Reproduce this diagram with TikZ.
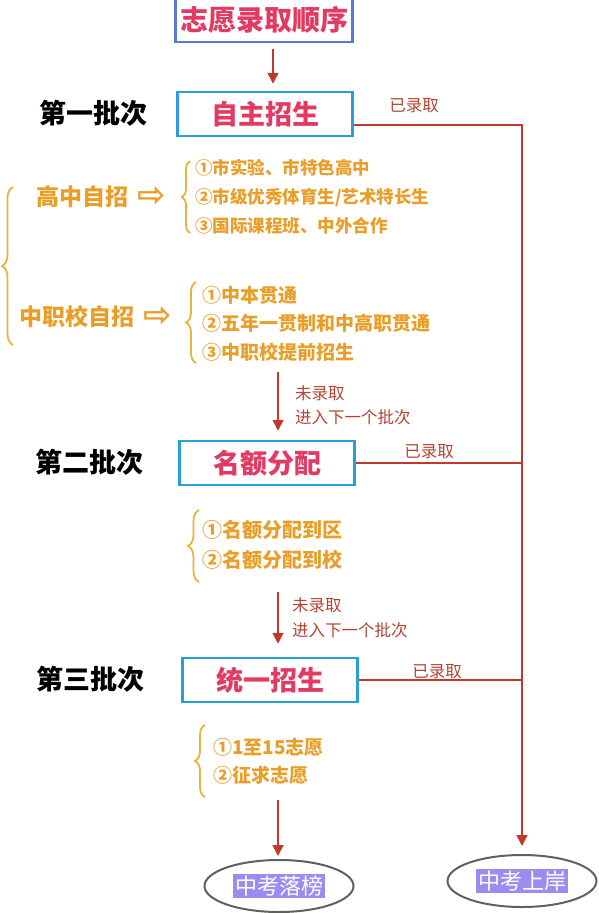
\documentclass[tikz,border=0pt]{standalone}
\usepackage{fontspec}
\setmainfont{Noto Sans CJK SC}
\newfontfamily\symfont{DejaVu Sans}
\usepackage{tikz}
\usetikzlibrary{positioning}
\usetikzlibrary{arrows.meta}
\usetikzlibrary{decorations.pathreplacing}
\usetikzlibrary{shapes.geometric}
\definecolor{titlered}{RGB}{226,58,98}
\definecolor{titleblue}{RGB}{90,120,215}
\definecolor{boxblue}{RGB}{40,160,215}
\definecolor{linered}{RGB}{192,57,43}
\definecolor{notered}{RGB}{178,68,50}
\definecolor{itemorange}{RGB}{232,158,40}
\definecolor{braceyellow}{RGB}{230,180,60}
\definecolor{endpurple}{RGB}{155,140,240}
\setlength{\fboxsep}{2pt}

\begin{document}
\begin{tikzpicture}
    [x=1pt,y=-1pt,
    headbox/.style={draw=titleblue,line width=2.2pt,text=titlered,minimum width=177pt,minimum height=44pt,inner sep=0pt,font=\fontsize{28}{30}\selectfont\bfseries},
    batchbox/.style={draw=boxblue,line width=2.5pt,text=titlered,minimum width=175pt,minimum height=44pt,inner sep=0pt,font=\fontsize{27}{29}\selectfont\bfseries},
    lvl/.style={font=\fontsize{27}{29}\selectfont\bfseries},
    grp/.style={text=itemorange,inner sep=0pt,font=\fontsize{23}{25}\selectfont\bfseries},
    item/.style={anchor=west,inner sep=0pt,text=itemorange,font=\fontsize{19}{21}\selectfont\bfseries},
    note/.style={inner sep=0pt,text=notered,font=\fontsize{16.5}{18}\selectfont},
    endnode/.style={ellipse,draw=gray!75!black,line width=2pt,minimum width=149pt,minimum height=52pt,inner sep=0pt,font=\fontsize{22}{24}\selectfont},
    arr/.style={draw=linered,line width=1.6pt,-{Triangle[width=11pt,length=11pt]}},
    link/.style={draw=linered,line width=1.6pt},
    brc/.style={draw=braceyellow,line width=1.8pt,decorate}
    ]
    \useasboundingbox (0,0) rectangle (599,913);

    % title and the three batches
    \node (t) at (264,20) [headbox] {志愿录取顺序};
    \node (b1) at (265,114) [batchbox] {自主招生};
    \node (b2) at (267,463) [batchbox] {名额分配};
    \node (b3) at (270,680) [batchbox] {统一招生};
    \node (s1) at (93,113) [lvl] {第一批次};
    \node (s2) at (89,462) [lvl] {第二批次};
    \node (s3) at (90,679) [lvl] {第三批次};
    \draw [arr,shorten <=6pt,shorten >=7pt] ([xshift=9pt]t.south) to ([xshift=9pt]t.south |- b1.north);

    % first batch
    \node (g1) at (82,197) [grp] {高中自招};
    \node (a1) [grp,right=9pt of g1,font=\symfont\fontsize{34}{36}\selectfont\bfseries] {⇨};
    \node (g2) at (77,317) [grp] {中职校自招};
    \node (a2) [grp,right=9pt of g2,font=\symfont\fontsize{34}{36}\selectfont\bfseries] {⇨};
    \draw [brc,decoration={brace,amplitude=11pt}] (13,345) to (13,187);

    \node (i11) at (195,168) [item,font=\fontsize{17.5}{20}\selectfont\bfseries] {①市实验、市特色高中};
    \node (i12) at (195,197) [item,font=\fontsize{17.5}{20}\selectfont\bfseries] {②市级优秀体育生/艺术特长生};
    \node (i13) at (195,226) [item,font=\fontsize{17.5}{20}\selectfont\bfseries] {③国际课程班、中外合作};
    \draw [brc,decoration={brace,amplitude=8pt}] (190,233) to (190,161);

    \node (i21) at (202,295) [item] {①中本贯通};
    \node (i22) at (202,323) [item] {②五年一贯制和中高职贯通};
    \node (i23) at (202,352) [item] {③中职校提前招生};
    \draw [brc,decoration={brace,amplitude=10pt}] (196,363) to (196,282);

    \coordinate (u1) at (278,372);
    \draw [arr,shorten >=9pt] (u1) to (u1 |- b2.north);
    \node (n11) at (295,393) [note,anchor=west] {未录取};
    \node (n12) at (295,417) [note,anchor=west] {进入下一个批次};

    % second batch
    \node (i31) at (202,530) [item,font=\fontsize{20}{22}\selectfont\bfseries] {①名额分配到区};
    \node (i32) at (202,560) [item,font=\fontsize{20}{22}\selectfont\bfseries] {②名额分配到校};
    \draw [brc,decoration={brace,amplitude=11pt}] (199,582) to (199,510);

    \coordinate (u2) at (278,592);
    \draw [arr,shorten >=13pt] (u2) to (u2 |- b3.north);
    \node (n21) at (292,605) [note,anchor=west] {未录取};
    \node (n22) at (292,630) [note,anchor=west] {进入下一个批次};

    % third batch
    \node (i41) at (213,747) [item] {①1至15志愿};
    \node (i42) at (213,775) [item] {②征求志愿};
    \draw [brc,decoration={brace,amplitude=10pt}] (205,797) to (205,725);

    % results
    \node (e1) at (279,886) [endnode] {\colorbox{endpurple}{\textcolor{white}{中考落榜}}};
    \node (e2) at (522,881) [endnode] {\colorbox{endpurple}{\textcolor{white}{中考上岸}}};
    \coordinate (u3) at (278,800);
    \draw [arr,shorten >=3pt] (u3) to (u3 |- e1.north);

    \coordinate (r1) at (522,125);
    \coordinate (r2) at (b2.east -| r1);
    \coordinate (r3) at (b3.east -| r1);
    \draw [arr,shorten >=8pt] (b1.east |- r1) -- (r1) -- (e2);
    \draw [link] (b2.east) to (r2);
    \draw [link] (b3.east) to (r3);
    \node (k1) at (414,106) [note] {已录取};
    \node (k2) at (429,452) [note] {已录取};
    \node (k3) at (437,672) [note] {已录取};
\end{tikzpicture}
\end{document}
